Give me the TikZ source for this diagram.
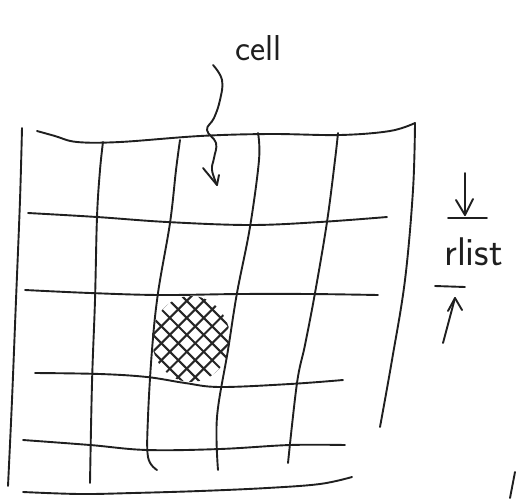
\documentclass[tikz,border=0pt]{standalone}
\usetikzlibrary{calc}
\begin{document}
\begin{tikzpicture}[x=1pt,y=-1pt,
  ink/.style={line width=1.9pt,line cap=round,line join=round,black!88},
  hatch/.style={line width=2.1pt,line cap=round,black!85},
  hand/.style={inner sep=0pt,font=\sffamily,black!88}]
\useasboundingbox (0,0) rectangle (517,499);
% outer frame
\draw[ink] plot[smooth,tension=0.6] coordinates {(22,128) (20,200) (16,300) (12,400) (8,486)};
\draw[ink] plot[smooth,tension=0.6] coordinates {(37,131) (55,136) (77,142) (120,142) (200,136) (270,134) (340,135) (390,131) (415,123)};
\draw[ink] plot[smooth,tension=0.6] coordinates {(415,123) (413,190) (405,280) (392,360) (380,427)};
\draw[ink] plot[smooth,tension=0.6] coordinates {(23,492) (80,494) (133,493) (200,491) (267,488) (320,484) (352,477)};
% inner verticals
\draw[ink] plot[smooth,tension=0.6] coordinates {(103,142) (100,170) (97,217) (95,300) (92,383) (90,483)};
\draw[ink] plot[smooth,tension=0.6] coordinates {(180,140) (176,170) (170,223) (158,293) (152,350) (148,417) (148,457) (157,470)};
\draw[ink] plot[smooth,tension=0.6] coordinates {(258,133) (259,160) (250,227) (237,293) (228,350) (217,417) (218,470)};
\draw[ink] plot[smooth,tension=0.6] coordinates {(338,133) (335,160) (327,222) (315,293) (305,345) (297,383) (288,463)};
% inner horizontals
\draw[ink] plot[smooth,tension=0.6] coordinates {(28,213) (97,217) (167,222) (250,225) (320,222) (387,217)};
\draw[ink] plot[smooth,tension=0.6] coordinates {(25,290) (90,293) (160,295) (240,294) (310,294) (378,295)};
\draw[ink] plot[smooth,tension=0.6] coordinates {(35,373) (100,374) (147,377) (185,383) (220,387) (290,384) (343,380)};
\draw[ink] plot[smooth,tension=0.6] coordinates {(23,440) (90,445) (147,450) (220,449) (290,445) (345,445)};
% hatched cell
\begin{scope}
\clip (191,339) ellipse [x radius=39, y radius=43];
\foreach \d in {-60,-48,...,60} {
  \draw[hatch] ($(191,339)+(\d*0.707,-\d*0.707)+(-50,-50)$) -- ($(191,339)+(\d*0.707,-\d*0.707)+(50,50)$);
}
\foreach \d in {-54,-42,...,54} {
  \draw[hatch] ($(191,339)+(\d*0.707,\d*0.707)+(-50,50)$) -- ($(191,339)+(\d*0.707,\d*0.707)+(50,-50)$);
}
\end{scope}
% cell label and squiggle
\node[hand,font=\sffamily\fontsize{36}{36}\selectfont,anchor=base west] (celltxt) at (235,60) {cell};
\coordinate (sqtop) at (213,65);
\coordinate (sqtip) at (217,185);
\draw[ink] plot[smooth,tension=0.7] coordinates {(sqtop) (222,80) (220,100) (214,118) (207,130) (216,143) (214,158) (212,170) (sqtip)};
\draw[ink] (203,168) -- (sqtip) -- (219,175);
% rlist dimension
\node[hand,font=\sffamily\fontsize{40}{40}\selectfont,anchor=base west] (rlisttxt) at (444,265) {rlist};
\coordinate (dtop) at (465,173);
\coordinate (dtip) at (465,215);
\draw[ink] (dtop) -- (dtip);
\draw[ink] (456,200) -- (dtip) -- (473,199);
\draw[ink] (448,218) -- (487,218);
\draw[ink] (435,286) -- (465,287);
\coordinate (ubot) at (443,343);
\coordinate (utip) at (455,298);
\draw[ink] (ubot) -- (utip);
\draw[ink] (448,311) -- (utip) -- (462,310);
% stray stroke bottom right
\draw[ink] (515,472) -- (510,498);
\end{tikzpicture}
\end{document}
